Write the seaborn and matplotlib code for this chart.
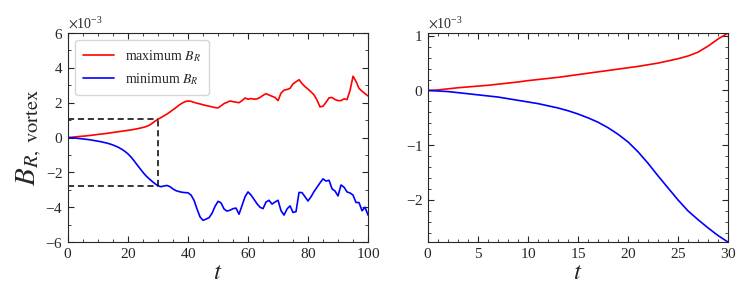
import numpy as np
import pandas as pd
import matplotlib
matplotlib.use("Agg")
import matplotlib.pyplot as plt
from matplotlib.ticker import MultipleLocator
import seaborn as sns

# time grid (1 unit steps) and extrema of B_R in units of 1e-3
t = np.arange(0, 101)

br_max = [0, 0.01, 0.03, 0.05, 0.065, 0.08, 0.095, 0.115, 0.135, 0.155,
          0.18, 0.2, 0.22, 0.24, 0.265, 0.29, 0.315, 0.34, 0.365, 0.39,
          0.415, 0.44, 0.47, 0.5, 0.54, 0.58, 0.63, 0.7, 0.81, 0.94,
          1.05, 1.15, 1.25, 1.35, 1.47, 1.6, 1.72, 1.86, 1.97, 2.06,
          2.1, 2.08, 2.02, 1.97, 1.93, 1.88, 1.84, 1.8, 1.76, 1.72,
          1.7, 1.82, 1.95, 2.02, 2.1, 2.06, 2.03, 2.0, 2.12, 2.27,
          2.2, 2.24, 2.2, 2.22, 2.3, 2.42, 2.52, 2.44, 2.37, 2.3,
          2.12, 2.55, 2.72, 2.76, 2.82, 3.08, 3.2, 3.32, 3.1, 2.92,
          2.78, 2.62, 2.45, 2.15, 1.76, 1.8, 2.02, 2.28, 2.3, 2.18,
          2.12, 2.12, 2.22, 2.18, 2.7, 3.52, 3.22, 2.82, 2.66, 2.52,
          2.39]

br_min = [0, -0.01, -0.02, -0.04, -0.06, -0.08, -0.1, -0.12, -0.15, -0.18,
          -0.21, -0.24, -0.28, -0.32, -0.37, -0.43, -0.5, -0.58, -0.68, -0.8,
          -0.94, -1.12, -1.33, -1.56, -1.78, -2.0, -2.2, -2.36, -2.51, -2.65,
          -2.77, -2.82, -2.78, -2.75, -2.82, -2.95, -3.05, -3.1, -3.14, -3.16,
          -3.17, -3.3, -3.6, -4.1, -4.55, -4.75, -4.68, -4.6, -4.35, -3.95,
          -3.66, -3.75, -4.1, -4.22, -4.17, -4.08, -4.05, -4.4, -3.9, -3.4,
          -3.12, -3.3, -3.55, -3.8, -4.0, -4.08, -3.7, -3.6, -3.82, -3.7,
          -3.6, -4.2, -4.45, -4.1, -3.92, -4.3, -4.25, -3.15, -3.16, -3.4,
          -3.64, -3.4, -3.1, -2.85, -2.6, -2.37, -2.5, -2.45, -2.94, -3.07,
          -3.35, -2.72, -2.85, -3.12, -3.18, -3.3, -3.73, -3.73, -4.2, -4.0,
          -4.45]

t_zoom = 30  # end of the early-growth window shown on the right

df = pd.DataFrame({"t": t,
                   "max": np.array(br_max) * 1e-3,
                   "min": np.array(br_min) * 1e-3})
early = df[df["t"] <= t_zoom]

sns.set_style("ticks")
plt.rcParams["font.family"] = ["Liberation Serif", "DejaVu Serif"]
plt.rcParams["mathtext.fontset"] = "stix"
plt.rcParams["axes.formatter.use_mathtext"] = True

fig = plt.figure(figsize=(7.5, 3), dpi=100)
ax1 = fig.add_axes([0.0907, 0.193, 0.4, 0.697])
ax2 = fig.add_axes([0.5707, 0.193, 0.4, 0.697])

# left: full run
sns.lineplot(data=df, x="t", y="max", color="red", lw=1.2, ax=ax1, label=r"maximum $B_R$")
sns.lineplot(data=df, x="t", y="min", color="blue", lw=1.2, ax=ax1, label=r"minimum $B_R$")

# dashed box marking the zoomed window
y_hi = early["max"].iloc[-1]
y_lo = early["min"].iloc[-1]
box = dict(color="black", ls="--", lw=1.1, dashes=(4, 2.5))
ax1.plot([0, t_zoom], [y_hi, y_hi], **box)
ax1.plot([0, t_zoom], [y_lo, y_lo], **box)
ax1.plot([t_zoom, t_zoom], [y_lo, y_hi], **box)

ax1.set_xlim(0, 100)
ax1.set_ylim(-6e-3, 6e-3)
ax1.xaxis.set_major_locator(MultipleLocator(20))
ax1.xaxis.set_minor_locator(MultipleLocator(5))
ax1.yaxis.set_major_locator(MultipleLocator(2e-3))
ax1.yaxis.set_minor_locator(MultipleLocator(1e-3))
ax1.set_ylabel(r"$B_{R,\ \mathrm{vortex}}$", fontsize=21, labelpad=1)
leg = ax1.legend(loc="upper left", fontsize=10, frameon=True, fancybox=True,
                 handlelength=2.2, borderpad=0.6, labelspacing=0.5)
leg.get_frame().set_edgecolor("#cccccc")

# right: zoom on early growth
sns.lineplot(data=early, x="t", y="max", color="red", lw=1.2, ax=ax2, legend=False)
sns.lineplot(data=early, x="t", y="min", color="blue", lw=1.2, ax=ax2, legend=False)
ax2.set_xlim(0, t_zoom)
ax2.set_ylim(early["min"].min(), early["max"].max())
ax2.xaxis.set_major_locator(MultipleLocator(5))
ax2.xaxis.set_minor_locator(MultipleLocator(1))
ax2.yaxis.set_major_locator(MultipleLocator(1e-3))
ax2.yaxis.set_minor_locator(MultipleLocator(0.2e-3))
ax2.set_ylabel("")

for ax in (ax1, ax2):
    ax.ticklabel_format(style="sci", axis="y", scilimits=(0, 0))
    ax.yaxis.get_offset_text().set_fontsize(10)
    ax.set_xlabel(r"$t$", fontsize=18, labelpad=1)
    ax.tick_params(which="both", direction="in", top=True, right=True, labelsize=11)
    ax.tick_params(which="major", length=4, width=0.8)
    ax.tick_params(which="minor", length=2.5, width=0.6)
    for s in ax.spines.values():
        s.set_linewidth(0.8)

fig.savefig("out.png", dpi=100)
